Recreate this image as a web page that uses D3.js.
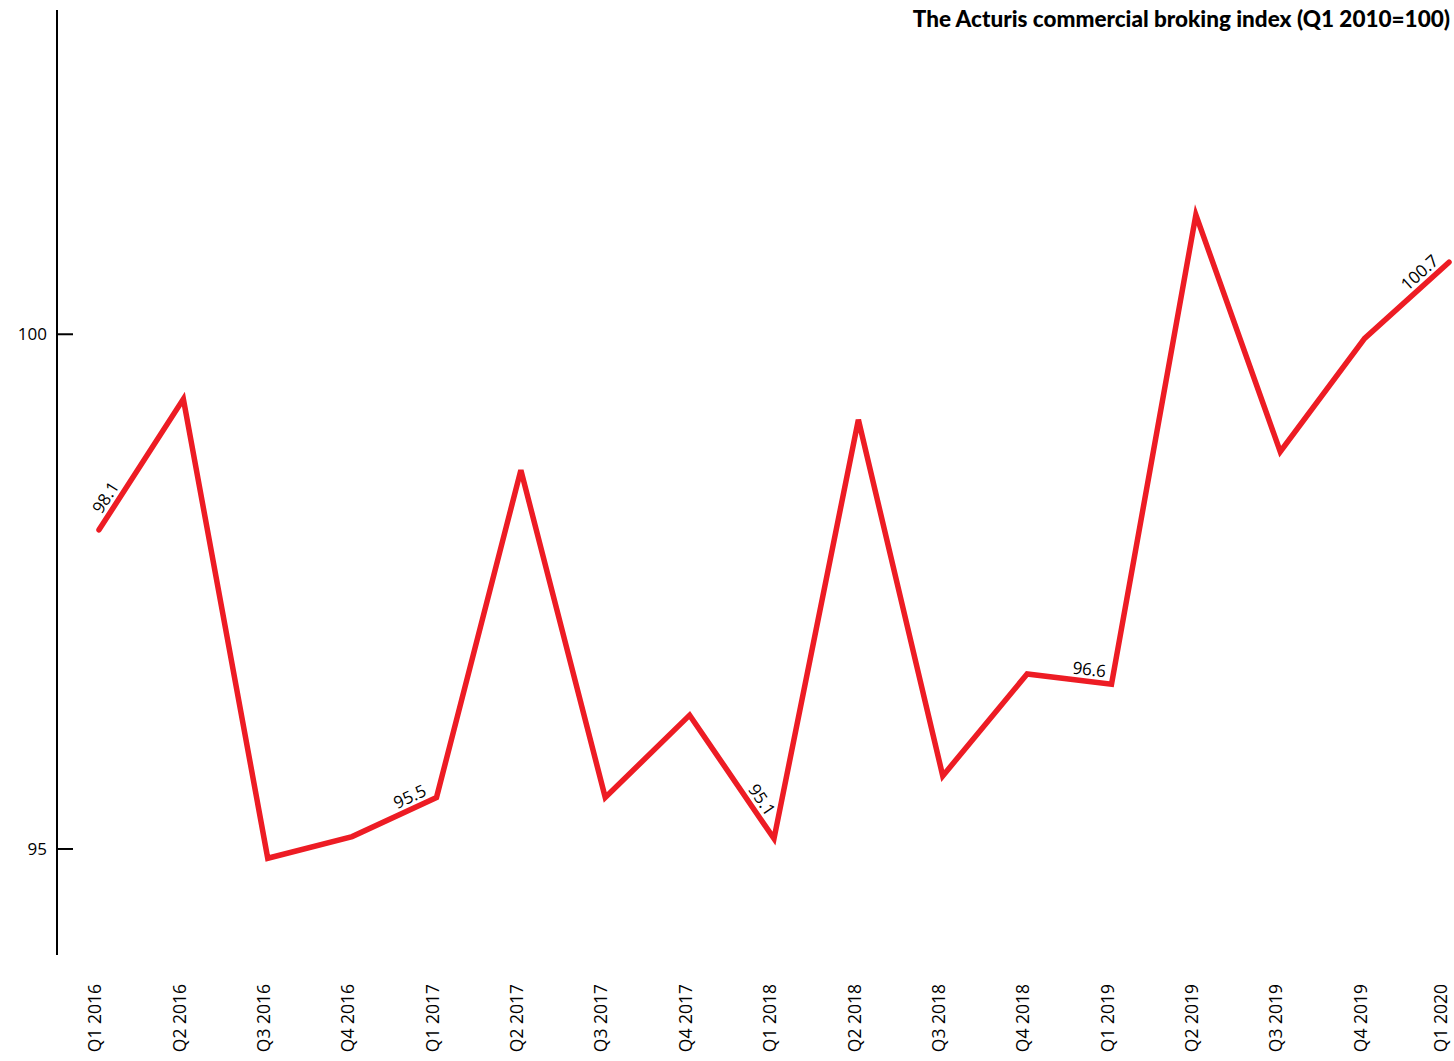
<!DOCTYPE html>
<html>
<head>
<meta charset="utf-8">
<script src="https://cdn.jsdelivr.net/npm/d3@7"></script>
<style>
    body { margin: 0; background: #fff; }
    svg { display: block; }
</style>
</head>
<body>
<svg id="chart" width="1454" height="1061"></svg>
<script>

const quarters = ['Q1 2016', 'Q2 2016', 'Q3 2016', 'Q4 2016',
    'Q1 2017', 'Q2 2017', 'Q3 2017', 'Q4 2017',
    'Q1 2018', 'Q2 2018', 'Q3 2018', 'Q4 2018',
    'Q1 2019', 'Q2 2019', 'Q3 2019', 'Q4 2019',
    'Q1 2020'];

const indexValues = [98.1, 99.37, 94.91, 95.12,
    95.5, 98.68, 95.5, 96.3,
    95.1, 99.17, 95.71, 96.7,
    96.6, 101.16, 98.86, 99.96,
    100.7];

// which points carry a value label
const labelled = ['Q1 2016', 'Q1 2017', 'Q1 2018', 'Q1 2019', 'Q1 2020'];

const yTicks = [95, 100];

const title = 'The Acturis commercial broking index (Q1 2010=100)';

const svg = d3.select('#chart');

let x = d3.scalePoint()
    .domain(quarters)
    .range([99, 1449]);

let y = d3.scaleLinear()
    .domain([93.97, 103.15])
    .range([955, 10]);

let data = quarters.map(function (q, i) {
    return {q: q, v: indexValues[i], i: i};
});

const font = '"Open Sans", sans-serif';

// y axis
let yAxis = svg.append('g')
    .attr('transform', 'translate(57,0)');

yAxis.append('line')
    .attr('y1', y.range()[1])
    .attr('y2', y.range()[0])
    .attr('stroke', '#000')
    .attr('stroke-width', 2);

let ticks = yAxis.selectAll('g.tick')
    .data(yTicks)
    .enter()
    .append('g')
    .attr('class', 'tick')
    .attr('transform', function (d) { return 'translate(0,' + y(d) + ')'; });

ticks.append('line')
    .attr('x2', 16)
    .attr('stroke', '#000')
    .attr('stroke-width', 2);

ticks.append('text')
    .attr('x', -10)
    .attr('dy', '0.35em')
    .attr('text-anchor', 'end')
    .style('font-family', font)
    .style('font-size', '17px')
    .text(function (d) { return d; });

// x labels (last one nudged in so it stays on the page)
svg.append('g')
    .selectAll('text')
    .data(quarters)
    .enter()
    .append('text')
    .attr('transform', function (d) {
        return 'translate(' + Math.min(x(d) - 4, 1441) + ',984) rotate(-90)';
    })
    .attr('dy', '0.35em')
    .attr('text-anchor', 'end')
    .style('font-family', font)
    .style('font-size', '17.5px')
    .text(function (d) { return d; });

// the line
let line = d3.line()
    .x(function (d) { return x(d.q); })
    .y(function (d) { return y(d.v); });

svg.append('path')
    .datum(data)
    .attr('d', line)
    .attr('fill', 'none')
    .attr('stroke', '#ed1c24')
    .attr('stroke-width', 5.5)
    .attr('stroke-linejoin', 'miter')
    .attr('stroke-linecap', 'round');

// value labels, laid along the segment
function segAngle(d) {
    let a, b;
    if (d.i === 0) { a = data[0]; b = data[1]; }
    else { a = data[d.i - 1]; b = d; }
    return Math.atan2(y(b.v) - y(a.v), x(b.q) - x(a.q)) * 180 / Math.PI;
}

svg.append('g')
    .selectAll('text')
    .data(data.filter(function (d) { return labelled.indexOf(d.q) >= 0; }))
    .enter()
    .append('text')
    .attr('transform', function (d) {
        return 'translate(' + x(d.q) + ',' + y(d.v) + ') rotate(' + segAngle(d) + ')';
    })
    .attr('x', function (d) {
        if (d.i === 0) return 14;
        return segAngle(d) > 20 ? -22 : -7;
    })
    .attr('dy', -6)
    .attr('text-anchor', function (d) { return d.i === 0 ? 'start' : 'end'; })
    .style('font-family', font)
    .style('font-size', '17px')
    .text(function (d) { return d.v.toFixed(1); });

// title
svg.append('text')
    .attr('x', 1450)
    .attr('y', 27)
    .attr('text-anchor', 'end')
    .style('font-family', 'Lato, sans-serif')
    .style('font-weight', '900')
    .style('font-size', '22.5px')
    .text(title);

</script>
</body>
</html>
